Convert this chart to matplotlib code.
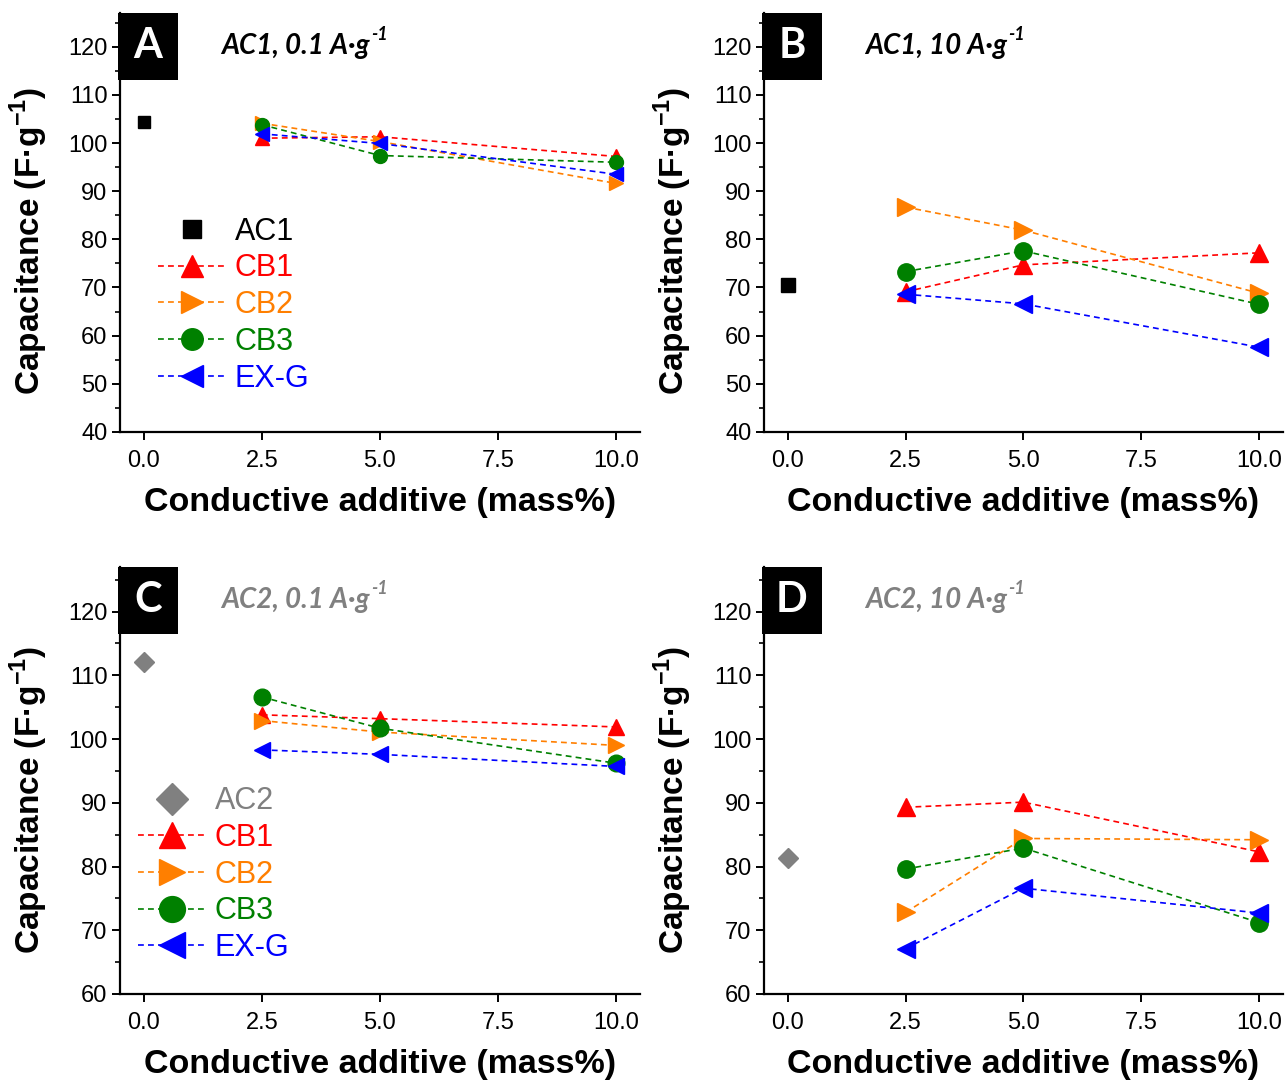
import matplotlib
matplotlib.use("Agg")
from matplotlib import pyplot as plt
from matplotlib.patches import Rectangle
from matplotlib.ticker import MultipleLocator
import numpy as np

plt.rcParams["font.family"] = ["Liberation Sans", "DejaVu Sans"]
plt.rcParams["mathtext.fontset"] = "custom"
plt.rcParams["mathtext.rm"] = "Liberation Sans"
plt.rcParams["mathtext.bf"] = "Liberation Sans:bold"

# x positions (mass% of conductive additive)
x_ref = [0.0]
x_add = [2.5, 5.0, 10.0]

# AC1, 0.1 A/g
ac1_low = [104.4]
a_cb1 = [101.0, 101.3, 97.2]
a_cb2 = [104.1, 100.3, 91.6]
a_cb3 = [103.8, 97.4, 96.0]
a_exg = [101.9, 99.9, 93.5]

# AC1, 10 A/g
ac1_high = [70.5]
b_cb1 = [69.1, 74.7, 77.2]
b_cb2 = [86.7, 81.9, 68.8]
b_cb3 = [73.3, 77.6, 66.5]
b_exg = [68.6, 66.6, 57.6]

# AC2, 0.1 A/g
ac2_low = [112.1]
c_cb1 = [103.8, 103.2, 101.9]
c_cb2 = [102.9, 101.1, 99.0]
c_cb3 = [106.6, 101.7, 96.2]
c_exg = [98.3, 97.6, 95.7]

# AC2, 10 A/g
ac2_high = [81.3]
d_cb1 = [89.3, 90.1, 82.3]
d_cb2 = [72.8, 84.4, 84.2]
d_cb3 = [79.6, 82.9, 71.2]
d_exg = [67.1, 76.6, 72.7]

names = ["CB1", "CB2", "CB3", "EX-G"]
colors = ["#ff0000", "#ff7f00", "#008000", "#0000ff"]
markers = ["^", ">", "o", "<"]

panels = [
    dict(letter="A", title="AC1, 0.1 A·g", tcol="black", ref=ac1_low, ref_name="AC1",
         ref_col="black", ref_mk="s", series=[a_cb1, a_cb2, a_cb3, a_exg],
         ylim=(40, 127), ms=10, legend=(0.05, 0.543), rect=[0.0934, 0.6004, 0.4046, 0.3876]),
    dict(letter="B", title="AC1, 10 A·g", tcol="black", ref=ac1_high, ref_name="AC1",
         ref_col="black", ref_mk="s", series=[b_cb1, b_cb2, b_cb3, b_exg],
         ylim=(40, 127), ms=12.5, legend=None, rect=[0.5946, 0.6004, 0.4036, 0.3876]),
    dict(letter="C", title="AC2, 0.1 A·g", tcol="#808080", ref=ac2_low, ref_name="AC2",
         ref_col="#808080", ref_mk="D", series=[c_cb1, c_cb2, c_cb3, c_exg],
         ylim=(60, 127), ms=12, legend=(0.012, 0.515), rect=[0.0934, 0.0805, 0.4046, 0.395]),
    dict(letter="D", title="AC2, 10 A·g", tcol="#808080", ref=ac2_high, ref_name="AC2",
         ref_col="#808080", ref_mk="D", series=[d_cb1, d_cb2, d_cb3, d_exg],
         ylim=(60, 127), ms=12.5, legend=None, rect=[0.5946, 0.0805, 0.4036, 0.395]),
]

fig = plt.figure(figsize=(12.85, 10.81), dpi=100)

for p in panels:
    ax = fig.add_axes(p["rect"])
    ax.plot(x_ref, p["ref"], linestyle="none", marker=p["ref_mk"], color=p["ref_col"],
            markersize=p["ms"] * 0.85, label=p["ref_name"], zorder=3)
    for vals, name, col, mk in zip(p["series"], names, colors, markers):
        ax.plot(x_add, vals, linestyle=(0, (3.5, 2.5)), linewidth=1.2, color=col,
                marker=mk, markersize=p["ms"], label=name, zorder=3)

    ax.set_xlim(-0.5, 10.5)
    ax.set_ylim(*p["ylim"])
    ax.set_xticks([0, 2.5, 5, 7.5, 10])
    ax.set_xticklabels(["0.0", "2.5", "5.0", "7.5", "10.0"])
    ax.yaxis.set_major_locator(MultipleLocator(10))
    ax.yaxis.set_minor_locator(MultipleLocator(5))
    ax.set_yticks(np.arange(p["ylim"][0], 121, 10))
    for s in ["top", "right"]:
        ax.spines[s].set_visible(False)
    for s in ["left", "bottom"]:
        ax.spines[s].set_linewidth(1.6)
    ax.tick_params(axis="both", which="major", direction="out", length=6, width=1.4,
                   labelsize=17, pad=3)
    ax.tick_params(axis="x", which="major", pad=7)
    ax.tick_params(axis="y", which="minor", direction="out", length=3.5, width=1.2)

    ax.set_xlabel("Conductive additive (mass%)", fontsize=24.5, fontweight="bold", labelpad=11)
    ax.set_ylabel(r"Capacitance (F·g$^{\mathbf{-1}}$)", fontsize=24, fontweight="bold")
    ax.yaxis.set_label_coords(-0.135, 0.455)

    # panel letter box
    bw, bh = 60 / (p["rect"][2] * 1285), 67 / (p["rect"][3] * 1081)
    ax.add_patch(Rectangle((-0.004, 1 - bh), bw, bh, transform=ax.transAxes,
                           facecolor="black", edgecolor="none", clip_on=False, zorder=5))
    ax.text(-0.004 + bw / 2, 1 - bh / 2, p["letter"], transform=ax.transAxes,
            ha="center", va="center", color="white", fontsize=30, fontweight="bold",
            family="Lato", zorder=6)
    t = ax.text(0.195, 1 - bh / 2, p["title"], transform=ax.transAxes,
                ha="left", va="center", color=p["tcol"], fontsize=20, fontweight="bold",
                style="italic", family="Lato")
    ax.annotate("-1", xy=(1.0, 0.95), xycoords=t, xytext=(1, 0), textcoords="offset points",
                ha="left", va="center", color=p["tcol"], fontsize=13, fontweight="bold",
                style="italic", family="Lato")

    if p["legend"] is not None:
        leg = ax.legend(loc="upper left", bbox_to_anchor=p["legend"],
                        frameon=False, fontsize=22, handlelength=2.2, markerscale=1.55,
                        handletextpad=0.3, labelspacing=0.22, borderaxespad=0.0)
        for txt, col in zip(leg.get_texts(), [p["ref_col"]] + colors):
            txt.set_color(col)

fig.savefig("out.png", dpi=100)
